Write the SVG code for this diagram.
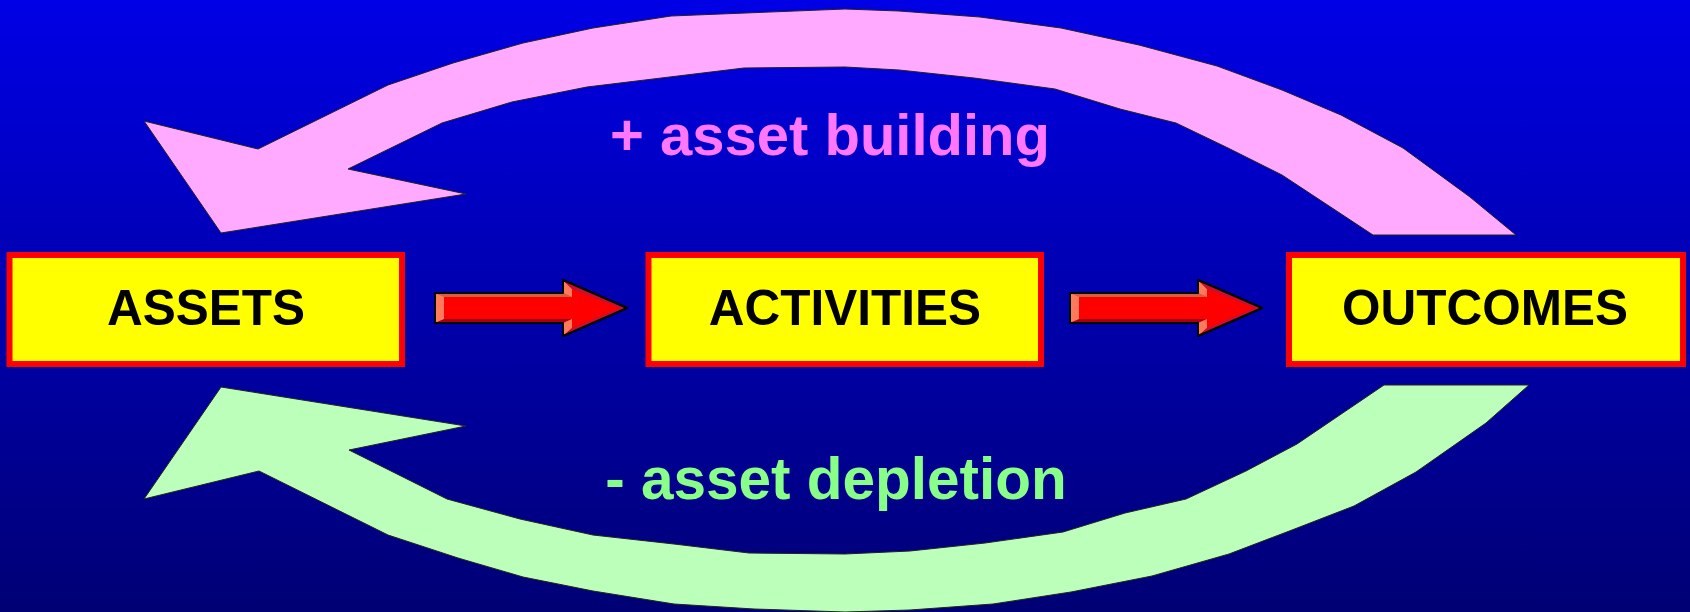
<svg xmlns="http://www.w3.org/2000/svg" width="1690" height="612" viewBox="0 0 1690 612">
<defs>
<linearGradient id="bg" x1="0" y1="0" x2="0" y2="1">
<stop offset="0" stop-color="#0000E6"/>
<stop offset="1" stop-color="#000074"/>
</linearGradient>
<g id="redArrow">
<polygon points="435,293 563,293 563,280 627,308 563,336 563,323 435,323" fill="#FF0000" stroke="#000" stroke-width="2" stroke-linejoin="round"/>
<polygon points="435,293 444,296 444,320 435,323" fill="#FF7A5A"/>
<polygon points="435,293 563,293 572,297 444,297" fill="#D06040"/>
<polygon points="563,280 572,289 572,297 563,293" fill="#FF7A5A"/>
<polygon points="563,280 627,308 619,308 572,289" fill="#C8102E"/>
<polygon points="435,323 563,323 572,319 444,319" fill="#A00018"/>
<polygon points="563,323 572,319 572,328 563,336" fill="#FF7A5A"/>
<polygon points="572,328 619,308 627,308 563,336" fill="#C8102E"/>
<polygon points="435,293 563,293 563,280 627,308 563,336 563,323 435,323" fill="none" stroke="#000" stroke-width="2" stroke-linejoin="round"/>
</g>
</defs>
<style>
.box{fill:#FFFF00;stroke:#FF0000;stroke-width:6}
.lbl{font-family:"Liberation Sans",Arial,sans-serif;font-weight:bold;font-size:49.5px;fill:#000;text-anchor:middle}
.cap{font-family:"Liberation Sans",Arial,sans-serif;font-weight:bold;font-size:58px;text-anchor:middle}
</style>
<rect x="0" y="0" width="1690" height="612" fill="url(#bg)"/>
<g id="connectors">
<path id="asset-building-arrow" d="M845,9 L899,11 L980,17 L1061,28 L1139,45 L1217,66 L1282,90 L1341,115 L1403,148 L1470,197 L1516,235 L1373,235 L1282,175 L1228,148 L1176,123 L1120,109 L1055,89 L974,78 L899,70 L845,67 L744,68 L587,87 L512,102 L442,123 L348,169 L466,194 L221,233 L144,121 L258,149 L388,85 L453,63 L523,43 L593,28 L671,16 Z" fill="#FFAAFF" stroke="#222" stroke-width="1"/>
<path id="asset-depletion-arrow" d="M221,387 L466,426 L349,450 L447,499 L520,519 L593,535 L674,544 L749,553 L845,554 L910,551 L985,543 L1063,532 L1125,513 L1186,499 L1246,471 L1297,444 L1384,385 L1529,385 L1486,423 L1416,472 L1354,506 L1292,530 L1229,554 L1152,576 L1071,592 L993,604 L910,610 L845,612 L754,609 L674,604 L593,591 L523,577 L458,558 L388,535 L259,471 L144,499 Z" fill="#BBFFBB" stroke="#222" stroke-width="1"/>
<use href="#redArrow"/>
<use href="#redArrow" transform="translate(635,0)"/>
</g>
<g id="assets">
<rect class="box" x="9.5" y="255" width="392.5" height="109"/>
<text class="lbl" x="206" y="325">ASSETS</text>
</g>
<g id="activities">
<rect class="box" x="648.5" y="255" width="392.5" height="109"/>
<text class="lbl" x="845" y="325">ACTIVITIES</text>
</g>
<g id="outcomes">
<rect class="box" x="1289" y="255" width="394" height="109"/>
<text class="lbl" x="1485" y="325">OUTCOMES</text>
</g>
<text class="cap" x="830" y="155" fill="#FF77FF">+ asset building</text>
<text class="cap" x="836" y="499" fill="#88FF88" style="font-size:58.5px">- asset depletion</text>
</svg>
